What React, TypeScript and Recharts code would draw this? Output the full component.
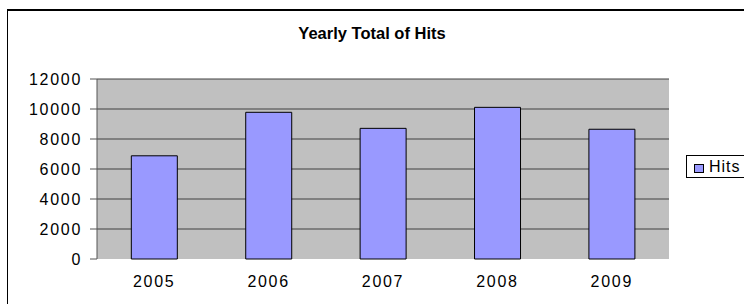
import React from 'react';
import {
  BarChart,
  Bar,
  XAxis,
  YAxis,
  CartesianGrid,
  Legend,
} from 'recharts';

const years = ['2005', '2006', '2007', '2008', '2009'];
const hits = [6880, 9780, 8710, 10110, 8650];
const yTicks = [0, 2000, 4000, 6000, 8000, 10000, 12000];
const edgeTicks = [0, 1, 2, 3, 4, 5];

const data = years.map((year, i) => ({ year, hits: hits[i], idx: i + 0.5 }));

const font = '"Liberation Sans", Arial, sans-serif';
const tickStyle = { fontSize: 16, fill: '#000', fontFamily: font, letterSpacing: 1.7 };

const LegendBox = (props: any) => {
  const item = props.payload && props.payload[0];
  return (
    <div
      style={{
        border: '1px solid #000',
        background: '#fff',
        width: 100,
        height: 23,
        boxSizing: 'border-box',
        display: 'flex',
        alignItems: 'center',
        fontFamily: font,
        fontSize: 16,
        letterSpacing: 1,
        paddingLeft: 7,
      }}
    >
      <span
        style={{
          display: 'inline-block',
          width: 8,
          height: 7,
          background: '#9999FF',
          border: '1px solid #000',
          marginRight: 5,
          marginTop: 4,
        }}
      />
      <span>{item ? item.value : 'Hits'}</span>
    </div>
  );
};

export default function App() {
  return (
    <div style={{ position: 'absolute', left: 0, top: 0, width: 744, height: 304, overflow: 'hidden', background: '#fff' }}>
      <div
        style={{
          position: 'absolute',
          left: 7,
          top: 9,
          width: 800,
          height: 400,
          borderLeft: '1px solid #000',
          borderTop: '2px solid #000',
        }}
      />
      <div
        style={{
          position: 'absolute',
          left: 0,
          width: 744,
          top: 24,
          textAlign: 'center',
          fontFamily: font,
          fontWeight: 'bold',
          fontSize: 16.5,
        }}
      >
        Yearly Total of Hits
      </div>
      <div style={{ position: 'absolute', left: 0, top: 0 }}>
        <BarChart
          width={744}
          height={304}
          data={data}
          margin={{ top: 79, right: 75, bottom: 0, left: 0 }}
          barCategoryGap="30%"
        >
          <CartesianGrid
            vertical={false}
            stroke="#404040"
            fill="#C0C0C0"
            fillOpacity={1}
            horizontalValues={yTicks.slice(1)}
          />
          <XAxis
            xAxisId="edge"
            type="number"
            dataKey="idx"
            domain={[0, 5]}
            ticks={edgeTicks}
            tick={false}
            tickSize={5}
            height={0}
            axisLine={{ stroke: '#222' }}
            tickLine={{ stroke: '#222' }}
          />
          <XAxis
            dataKey="year"
            height={45}
            axisLine={false}
            tickLine={false}
            tickSize={6}
            tickMargin={11}
            tick={tickStyle}
          />
          <YAxis
            domain={[0, 12000]}
            ticks={yTicks}
            width={97}
            tickSize={7}
            tickMargin={8}
            interval={0}
            axisLine={{ stroke: '#555' }}
            tickLine={{ stroke: '#555' }}
            tick={tickStyle}
          />
          <YAxis
            yAxisId="border"
            orientation="right"
            domain={[0, 12000]}
            width={0}
            tick={false}
            tickLine={false}
            axisLine={{ stroke: '#888' }}
          />
          <Legend
            layout="vertical"
            align="center"
            verticalAlign="middle"
            content={<LegendBox />}
            wrapperStyle={{ position: 'absolute', left: 686, top: 155, width: 100 }}
          />
          <Bar
            dataKey="hits"
            name="Hits"
            fill="#9999FF"
            stroke="#000"
            strokeWidth={1}
            isAnimationActive={false}
          />
        </BarChart>
      </div>
    </div>
  );
}
